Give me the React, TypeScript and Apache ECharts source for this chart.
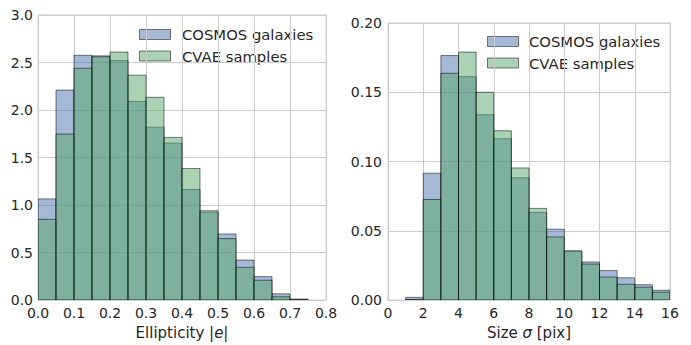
import React, { useEffect, useRef } from "react";
import * as echarts from "echarts";

const ellipticityEdges = [0, 0.05, 0.1, 0.15, 0.2, 0.25, 0.3, 0.35, 0.4, 0.45, 0.5, 0.55, 0.6, 0.65, 0.7, 0.75, 0.8];
const cosmosEllipticity = [1.065, 2.21, 2.576, 2.57, 2.52, 2.09, 1.82, 1.653, 1.163, 0.925, 0.696, 0.421, 0.247, 0.066, 0.01, 0];
const cvaeEllipticity = [0.85, 1.747, 2.44, 2.56, 2.61, 2.367, 2.134, 1.712, 1.385, 0.94, 0.647, 0.345, 0.209, 0.035, 0.008, 0];

const sizeEdges = [0, 1, 2, 3, 4, 5, 6, 7, 8, 9, 10, 11, 12, 13, 14, 15, 16];
const cosmosSize = [0, 0.002, 0.0916, 0.1765, 0.1613, 0.1338, 0.1165, 0.0883, 0.0633, 0.0512, 0.0352, 0.0275, 0.0213, 0.0161, 0.0111, 0.0071];
const cvaeSize = [0, 0.0005, 0.0726, 0.1637, 0.179, 0.15, 0.1222, 0.0954, 0.0662, 0.0456, 0.0356, 0.026, 0.0166, 0.0114, 0.0093, 0.0057];

const seriesNames = ["COSMOS galaxies", "CVAE samples"];

const FONT = "DejaVu Sans";
const TEXT = "#262626";
const GRIDC = "#cccccc";
const BLUE = "rgba(76,114,176,0.5)";
const GREEN = "rgba(85,168,104,0.5)";
const EDGE = "rgba(0,0,0,0.5)";

function toBins(edges: number[], values: number[]) {
  return values.map((v, i) => [edges[i], edges[i + 1], v]);
}

function renderHist(params: any, api: any) {
  const x0 = api.value(0);
  const x1 = api.value(1);
  const y = api.value(2);
  if (!y) return null;
  const p0 = api.coord([x0, 0]);
  const p1 = api.coord([x1, y]);
  return {
    type: "rect",
    shape: { x: p0[0], y: p1[1], width: p1[0] - p0[0], height: p0[1] - p1[1] },
    style: { fill: api.visual("color"), stroke: EDGE, lineWidth: 1 },
  };
}

function legendGraphic(x: number, y: number, textX: number) {
  const items: any[] = [];
  [BLUE, GREEN].forEach((c, i) => {
    items.push({
      type: "rect",
      shape: { x, y: y + i * 21.5, width: 31, height: 10 },
      style: { fill: c, stroke: EDGE, lineWidth: 1 },
    });
    items.push({
      type: "text",
      x: textX,
      y: y + 5 + i * 21.5,
      style: {
        text: seriesNames[i],
        fill: TEXT,
        font: `14.8px "${FONT}"`,
        verticalAlign: "middle",
      },
    });
  });
  return items;
}

export default function App() {
  const ref = useRef<HTMLDivElement>(null);
  useEffect(() => {
    if (!ref.current) return;
    const chart = echarts.init(ref.current, null, { renderer: "svg" });
    const axisLabel = { color: TEXT, fontSize: 14, fontFamily: FONT, margin: 6 };
    const splitLine = { show: true, lineStyle: { color: GRIDC, width: 1 } };
    const nameTextStyle = {
      color: TEXT,
      fontSize: 15,
      fontFamily: FONT,
      rich: { i: { fontStyle: "italic", fontSize: 15, fontFamily: FONT, color: TEXT } },
    };
    chart.setOption({
      animation: false,
      backgroundColor: "#ffffff",
      textStyle: { fontFamily: FONT },
      grid: [
        { left: 38, top: 15, width: 288, height: 287, show: true, borderColor: GRIDC, borderWidth: 1, backgroundColor: "transparent" },
        { left: 388, top: 23, width: 282, height: 281, show: true, borderColor: GRIDC, borderWidth: 1, backgroundColor: "transparent" },
      ],
      xAxis: [
        {
          type: "value", gridIndex: 0, min: 0, max: 0.8, interval: 0.1,
          axisLine: { show: false }, axisTick: { show: false }, splitLine,
          axisLabel: { ...axisLabel, formatter: (v: number) => v.toFixed(1) },
          name: "Ellipticity |{i|e}|", nameLocation: "middle", nameGap: 24, nameTextStyle,
        },
        {
          type: "value", gridIndex: 1, min: 0, max: 16, interval: 2,
          axisLine: { show: false }, axisTick: { show: false }, splitLine,
          axisLabel: { ...axisLabel, formatter: (v: number) => String(v) },
          name: "Size {i|σ} [pix]", nameLocation: "middle", nameGap: 23, nameTextStyle,
        },
      ],
      yAxis: [
        {
          type: "value", gridIndex: 0, min: 0, max: 3, interval: 0.5,
          axisLine: { show: false }, axisTick: { show: false }, splitLine,
          axisLabel: { ...axisLabel, margin: 5, formatter: (v: number) => v.toFixed(1) },
        },
        {
          type: "value", gridIndex: 1, min: 0, max: 0.2, interval: 0.05,
          axisLine: { show: false }, axisTick: { show: false }, splitLine,
          axisLabel: { ...axisLabel, margin: 6, formatter: (v: number) => v.toFixed(2) },
        },
      ],
      series: [
        { type: "custom", name: seriesNames[0], xAxisIndex: 0, yAxisIndex: 0, itemStyle: { color: BLUE }, encode: { x: [0, 1], y: 2 }, data: toBins(ellipticityEdges, cosmosEllipticity), renderItem: renderHist, clip: true },
        { type: "custom", name: seriesNames[1], xAxisIndex: 0, yAxisIndex: 0, itemStyle: { color: GREEN }, encode: { x: [0, 1], y: 2 }, data: toBins(ellipticityEdges, cvaeEllipticity), renderItem: renderHist, clip: true },
        { type: "custom", name: seriesNames[0], xAxisIndex: 1, yAxisIndex: 1, itemStyle: { color: BLUE }, encode: { x: [0, 1], y: 2 }, data: toBins(sizeEdges, cosmosSize), renderItem: renderHist, clip: true },
        { type: "custom", name: seriesNames[1], xAxisIndex: 1, yAxisIndex: 1, itemStyle: { color: GREEN }, encode: { x: [0, 1], y: 2 }, data: toBins(sizeEdges, cvaeSize), renderItem: renderHist, clip: true },
      ],
      graphic: [...legendGraphic(139.5, 29.5, 182), ...legendGraphic(487.5, 36.5, 529)],
    });
    return () => chart.dispose();
  }, []);
  return <div ref={ref} style={{ position: "fixed", left: 0, top: 0, width: 691, height: 345 }} />;
}
